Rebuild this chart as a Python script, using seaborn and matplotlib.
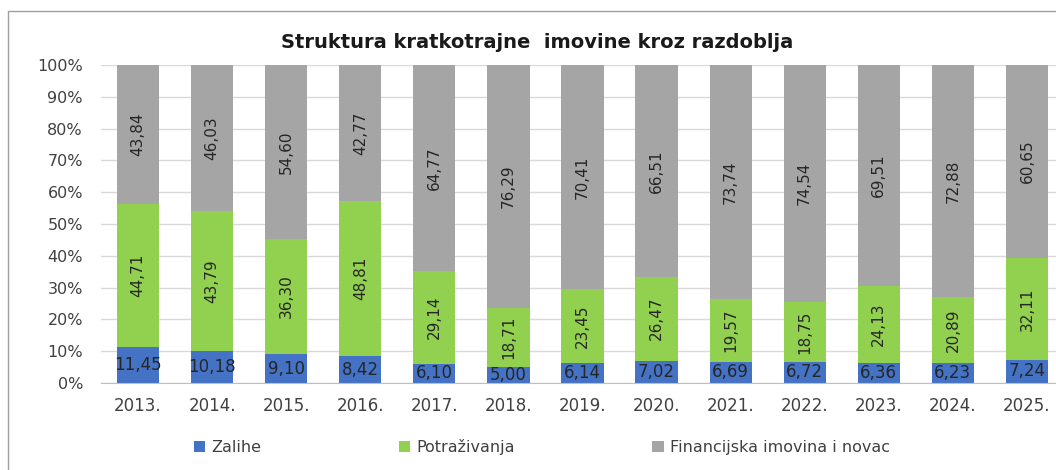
import pandas as pd
import seaborn as sns
import matplotlib
matplotlib.use("Agg")
import matplotlib.pyplot as plt
from matplotlib.patches import Patch
from matplotlib.lines import Line2D

# Data
years = ["2013.", "2014.", "2015.", "2016.", "2017.", "2018.", "2019.",
         "2020.", "2021.", "2022.", "2023.", "2024.", "2025."]
zalihe = [11.45, 10.18, 9.10, 8.42, 6.10, 5.00, 6.14, 7.02, 6.69, 6.72, 6.36, 6.23, 7.24]
potrazivanja = [44.71, 43.79, 36.30, 48.81, 29.14, 18.71, 23.45, 26.47, 19.57, 18.75, 24.13, 20.89, 32.11]
financijska = [43.84, 46.03, 54.60, 42.77, 64.77, 76.29, 70.41, 66.51, 73.74, 74.54, 69.51, 72.88, 60.65]
series_names = ["Zalihe", "Potraživanja", "Financijska imovina i novac"]
colors = ["#4472C4", "#92D050", "#A5A5A5"]

df = pd.DataFrame({
    "year": years,
    "Zalihe": zalihe,
    "Potraživanja": potrazivanja,
    "Financijska imovina i novac": financijska,
})

sns.set_style("white")
plt.rcParams["font.family"] = ["DejaVu Sans"]

fig = plt.figure(figsize=(10.56, 4.70), dpi=100)
ax = fig.add_axes([101 / 1056, 1 - 383 / 470, 963 / 1056, 318 / 470])

bottom = [0.0] * len(years)
for name, col in zip(series_names, colors):
    sns.barplot(x="year", y=name, data=df, color=col, width=0.57,
                bottom=bottom, ax=ax, saturation=1, zorder=3,
                linewidth=0, edgecolor="none")
    bottom = [b + v for b, v in zip(bottom, df[name])]

# Data labels
lab_col = "#262626"
for i in range(len(years)):
    z, p, f = zalihe[i], potrazivanja[i], financijska[i]
    ax.text(i, z / 2, f"{z:.2f}".replace(".", ","), ha="center", va="center",
            fontsize=12, color=lab_col, zorder=5)
    ax.text(i, z + p / 2, f"{p:.2f}".replace(".", ","), ha="center", va="center",
            rotation=90, fontsize=11, color=lab_col, zorder=5)
    ax.text(i, z + p + f / 2, f"{f:.2f}".replace(".", ","), ha="center", va="center",
            rotation=90, fontsize=11, color=lab_col, zorder=5)

ax.set_xlim(-0.5, len(years) - 0.5)
ax.set_ylim(0, 100)
ax.set_yticks(range(0, 101, 10))
ax.set_yticklabels([f"{t}%" for t in range(0, 101, 10)], fontsize=11.5, color="#404040")
ax.tick_params(axis="x", labelsize=12, colors="#404040", length=0, pad=10)
ax.tick_params(axis="y", length=0, pad=13)
ax.set_xlabel("")
ax.set_ylabel("")
ax.yaxis.grid(True, color="#D9D9D9", linewidth=1, zorder=0)
for s in ["top", "right", "left"]:
    ax.spines[s].set_visible(False)
ax.spines["bottom"].set_color("#BFBFBF")
ax.spines["bottom"].set_zorder(4)

fig.text(537 / 1056, 1 - 42 / 470, "Struktura kratkotrajne  imovine kroz razdoblja",
         ha="center", va="center", fontsize=14, fontweight="bold", color="#1a1a1a")

handles = [Patch(facecolor=c, edgecolor="none") for c in colors]
fig.legend(handles, series_names, loc="center", ncol=3,
           bbox_to_anchor=(542 / 1056, 1 - 447 / 470), frameon=False,
           fontsize=11.5, columnspacing=8.6, handlelength=0.7, handleheight=0.7,
           handletextpad=0.4, labelcolor="#404040")

# chart outer border (cropped on right and bottom)
fig.add_artist(Line2D([8 / 1056, 8 / 1056], [0, 1 - 11 / 470],
                      transform=fig.transFigure, color="#A0A0A0", linewidth=1))
fig.add_artist(Line2D([8 / 1056, 1], [1 - 11 / 470, 1 - 11 / 470],
                      transform=fig.transFigure, color="#A0A0A0", linewidth=1))

fig.savefig("out.png", dpi=100)
